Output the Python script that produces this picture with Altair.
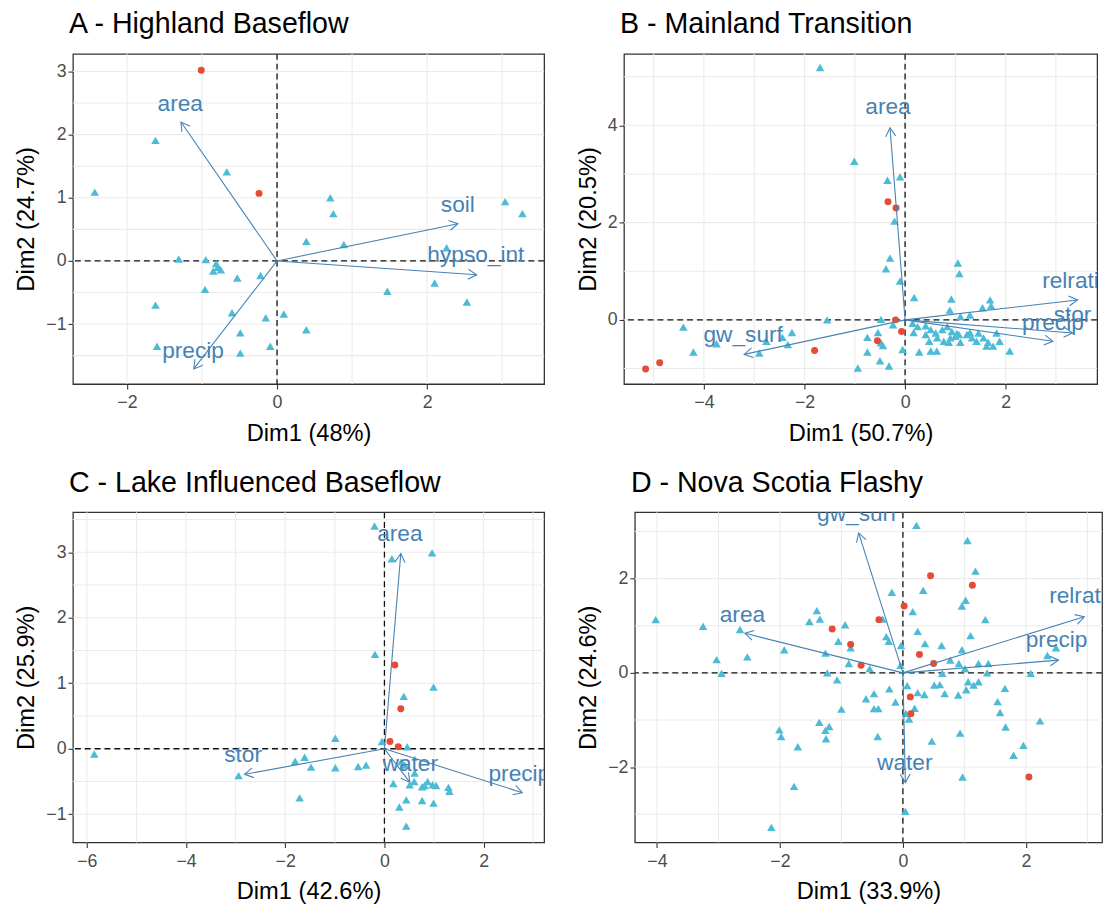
import math
import altair as alt
import pandas as pd

FONT = "Liberation Sans"
BLUE = "#4DBBD5"
RED = "#E64B35"
STEEL = "#4682B4"
GRID = "#EBEBEB"

# ---------------- Panel A ----------------
A_title = "A - Highland Baseflow"
A_xlab = "Dim1 (48%)"
A_ylab = "Dim2 (24.7%)"
A_xdom = [-2.72, 3.56]
A_ydom = [-1.95, 3.28]
A_xticks = [-2, 0, 2]
A_yticks = [-1, 0, 1, 2, 3]
A_xgrid = [-2, -1, 0, 1, 2, 3]
A_ygrid = [-1.5, -1, -0.5, 0, 0.5, 1, 1.5, 2, 2.5, 3]
A_blue_x = [-1.62, -2.43, -0.67, 0.71, 0.75, 3.04, 3.27, 0.39, 0.89, 2.26, -1.31, -0.95, -0.81, -0.79,
            -0.85, -0.75, -0.53, -0.22, -0.96, 1.47, 2.10, 2.53, -1.62, -0.60, -0.15, 0.09, 0.39, -0.49,
            -1.60, -0.49, -0.09]
A_blue_y = [1.91, 1.09, 1.41, 1.00, 0.75, 0.94, 0.75, 0.31, 0.26, 0.21, 0.03, 0.02, -0.04, -0.10,
            -0.16, -0.14, -0.27, -0.23, -0.45, -0.48, -0.35, -0.65, -0.70, -0.82, -0.90, -0.84, -1.09, -1.14,
            -1.35, -1.46, -1.35]
A_red_x = [-1.01, -0.24]
A_red_y = [3.02, 1.07]
A_vars = ["area", "soil", "hypso_int", "precip"]
A_var_x = [-1.28, 2.41, 2.66, -1.11]
A_var_y = [2.20, 0.59, -0.22, -1.71]
A_lab_x = [-1.29, 2.41, 2.65, -1.12]
A_lab_y = [2.49, 0.89, 0.10, -1.42]

# ---------------- Panel B ----------------
B_title = "B - Mainland Transition"
B_xlab = "Dim1 (50.7%)"
B_ylab = "Dim2 (20.5%)"
B_xdom = [-5.59, 3.82]
B_ydom = [-1.32, 5.47]
B_xticks = [-4, -2, 0, 2]
B_yticks = [0, 2, 4]
B_xgrid = [-5, -4, -3, -2, -1, 0, 1, 2, 3]
B_ygrid = [-1, 0, 1, 2, 3, 4, 5]
B_blue_x = [-1.69, -1.01, -0.35, -0.10, -0.21, -0.30, -0.38, -0.10, 1.05, 1.08, 0.18, 0.92, 1.69, 1.71,
            1.54, 0.89, 1.29, 1.10, -0.48, -1.55, -4.41, -2.25, -2.44, -2.76, -2.33, -3.75, -4.21, -2.90,
            -0.75, -0.54, -0.48, -0.44, -0.75, -0.50, -0.32, -0.94, -0.24, -0.05, 0.17, 0.28,
            0.41, 0.51, 0.61, 0.74, 0.84, 0.93, 1.03, 0.41, 0.48, 0.64, 0.77, 0.90, 1.00, 1.10, 1.23,
            1.33, 1.42, 1.56, 1.65, 1.75, 1.82, 1.88, 0.63, 2.08, 1.62, 1.46, 1.29, 0.51, 0.87, 1.07,
            0.15, 0.25]
B_blue_y = [5.19, 3.26, 2.87, 2.94, 2.03, 1.27, 1.05, 0.80, 1.17, 0.95, 0.46, 0.43, 0.41, 0.29,
            0.25, 0.20, 0.10, 0.07, 0.01, 0.00, -0.15, -0.26, -0.36, -0.44, -0.51, -0.49, -0.66, -0.68,
            -0.36, -0.26, -0.47, -0.53, -0.66, -0.84, -0.95, -0.99, -0.10, -0.61, -0.26, -0.66,
            -0.12, -0.20, -0.27, -0.20, -0.14, -0.24, -0.28, -0.30, -0.44, -0.37, -0.44, -0.37, -0.34, -0.46, -0.30,
            -0.37, -0.44, -0.37, -0.46, -0.54, -0.27, -0.44, -0.64, -0.64, -0.54, -0.27, -0.26, -0.64, -0.46, -0.30,
            -0.07, -0.14]
B_red_x = [-5.16, -4.88, -1.80, -0.34, -0.18, -0.19, -0.07, -0.55]
B_red_y = [-1.01, -0.88, -0.63, 2.43, 2.30, 0.00, -0.24, -0.43]
B_vars = ["area", "relrati", "stor", "precip", "gw_surf"]
B_var_x = [-0.30, 3.43, 3.33, 2.94, -3.20]
B_var_y = [3.95, 0.41, -0.27, -0.44, -0.71]
B_lab_x = [-0.34, 3.29, 3.33, 2.94, -3.22]
B_lab_y = [4.38, 0.80, 0.10, -0.07, -0.32]

# ---------------- Panel C ----------------
C_title = "C - Lake Influenced Baseflow"
C_xlab = "Dim1 (42.6%)"
C_ylab = "Dim2 (25.9%)"
C_xdom = [-6.28, 3.22]
C_ydom = [-1.43, 3.61]
C_xticks = [-6, -4, -2, 0, 2]
C_yticks = [-1, 0, 1, 2, 3]
C_xgrid = [-6, -5, -4, -3, -2, -1, 0, 1, 2, 3]
C_ygrid = [-1, -0.5, 0, 0.5, 1, 1.5, 2, 2.5, 3, 3.5]
C_blue_x = [-0.20, 0.15, 0.96, -0.19, 0.99, 0.39, -0.99, -0.05, 0.46, -5.85, -1.80, -1.61, -1.48, -0.99,
            -0.53, -0.37, -2.94, -1.71, 0.18, 0.51, 0.61, 0.60, 0.76, 0.87, 0.97, 1.04, 0.81, 1.29, 1.31,
            0.44, 0.76, 0.99, 0.30, 0.44, 0.41, 0.34]
C_blue_y = [3.40, 2.90, 2.99, 1.44, 0.94, 0.80, 0.16, 0.11, 0.03, -0.08, -0.19, -0.13, -0.28, -0.29,
            -0.27, -0.25, -0.41, -0.75, -0.53, -0.55, -0.37, -0.50, -0.58, -0.50, -0.55, -0.56, -0.56, -0.59, -0.65,
            -0.78, -0.79, -0.83, -0.89, -1.18, -0.25, -0.20]
C_red_x = [0.21, 0.33, 0.11, 0.28]
C_red_y = [1.28, 0.61, 0.11, 0.03]
C_vars = ["area", "stor", "precip", "water"]
C_var_x = [0.33, -2.82, 2.78, 0.51]
C_var_y = [2.98, -0.39, -0.67, -0.51]
C_lab_x = [0.31, -2.85, 2.72, 0.52]
C_lab_y = [3.28, -0.09, -0.38, -0.23]

# ---------------- Panel D ----------------
D_title = "D - Nova Scotia Flashy"
D_xlab = "Dim1 (33.9%)"
D_ylab = "Dim2 (24.6%)"
D_xdom = [-4.36, 3.24]
D_ydom = [-3.60, 3.41]
D_xticks = [-4, -2, 0, 2]
D_yticks = [-2, 0, 2]
D_xgrid = [-4, -3, -2, -1, 0, 1, 2, 3]
D_ygrid = [-3, -2, -1, 0, 1, 2, 3]
D_blue_x = [-4.02, -3.25, -2.65, -3.03, -2.95, -2.53, -1.93, -1.52, -1.40, -1.35, -0.94, -1.05, -0.85, -1.26,
            -0.88, -1.23, -1.07, -0.54, -0.33, -0.18, -0.27, -0.23, -0.03, -0.04, 0.16, 0.22, 0.33, 0.24,
            0.36, 0.63, 1.05, 1.18, 1.02, 0.96, 1.34, 1.10, 0.96, 0.77, 0.91, 1.23, 1.39, 1.37, 1.01, 0.64,
            2.08, 2.35, 2.49, -1.00, -0.60, -0.47, -0.22, -0.47, -0.40, -0.12, 0.07, 0.24, 0.35, 0.19, 0.05,
            0.10, 0.51, 0.60, 0.68, 0.90, 1.03, 1.06, 1.15, 1.23, 1.66, 1.54, 1.58, 1.67, 2.23, 0.93, 0.47,
            1.96, 1.80, 0.97, 0.04, -0.41, -1.36, -1.20, -1.26, -1.25, -2.01, -1.98, -1.71, -1.77, -2.14]
D_blue_y = [1.13, 0.99, 0.92, 0.28, -0.01, 0.34, 0.49, 1.09, 1.32, 1.14, 1.02, 0.67, 0.53, 0.42,
            0.20, 0.00, -0.15, 0.09, 1.14, 1.71, 0.77, 0.67, 0.58, 0.16, 1.30, 3.13, 1.75, 0.88,
            0.62, 0.58, 2.81, 2.16, 1.54, 1.42, 1.13, 0.79, 0.49, 0.27, 0.20, 0.20, 0.20, 0.00, 0.09, -0.01,
            -0.01, 0.37, 0.53, -0.77, -0.55, -0.44, -0.34, -0.76, -0.76, -0.62, -0.27, -0.42, -0.46, -0.75, -0.86,
            -0.98, -0.26, -0.25, -0.44, -0.47, -0.36, -0.19, -0.26, -0.19, -0.33, -0.61, -0.84, -1.15, -1.02, -1.28, -1.45,
            -1.54, -1.75, -2.21, -2.94, -1.35, -1.05, -1.14, -1.22, -1.40, -1.21, -1.35, -1.57, -2.41, -3.28]
D_red_x = [0.45, 1.13, 0.02, -0.39, -1.15, -0.85, -0.68, 0.27, 0.50, 0.12, 0.13, 2.05]
D_red_y = [2.06, 1.86, 1.42, 1.13, 0.93, 0.60, 0.16, 0.39, 0.20, -0.51, -0.87, -2.21]
D_vars = ["gw_surf", "area", "relrati", "precip", "water"]
D_var_x = [-0.72, -2.57, 2.95, 2.53, 0.04]
D_var_y = [2.97, 0.84, 1.19, 0.27, -2.33]
D_lab_x = [-0.75, -2.61, 2.84, 2.50, 0.03]
D_lab_y = [3.37, 1.23, 1.64, 0.69, -1.92]

HEAD = "M-0.5,0.866L0,0L0.5,0.866"


def panel(title, xlab, ylab, xdom, ydom, xticks, yticks, xgrid, ygrid,
          bx, by, rx, ry, vars_, vx, vy, lx, ly, width, height):
    xs = alt.Scale(domain=xdom, nice=False, zero=False)
    ys = alt.Scale(domain=ydom, nice=False, zero=False)
    xax = alt.Axis(values=xticks, title=xlab, grid=False, domain=False, tickColor="#333333",
                   tickSize=5, tickWidth=1.1, labelColor="#4D4D4D", labelFontSize=18, labelFont=FONT,
                   labelPadding=5, titleFont=FONT, titleFontSize=24, titleFontWeight="normal",
                   titleColor="black", titlePadding=10, labelFlush=False)
    yax = alt.Axis(values=yticks, title=ylab, grid=False, domain=False, tickColor="#333333",
                   tickSize=5, tickWidth=1.1, labelColor="#4D4D4D", labelFontSize=18, labelFont=FONT,
                   labelPadding=2, titleFont=FONT, titleFontSize=24, titleFontWeight="normal",
                   titleColor="black", titlePadding=7, labelFlush=False)

    def X():
        return alt.X("x:Q", scale=xs, axis=xax)

    def Y():
        return alt.Y("y:Q", scale=ys, axis=yax)

    gx = alt.Chart(pd.DataFrame({"x": xgrid})).mark_rule(color=GRID, strokeWidth=1.1).encode(x=X())
    gy = alt.Chart(pd.DataFrame({"y": ygrid})).mark_rule(color=GRID, strokeWidth=1.1).encode(y=Y())
    zx = alt.Chart(pd.DataFrame({"x": [0]})).mark_rule(
        color="#111111", strokeDash=[6, 4], strokeWidth=1.3).encode(x=X())
    zy = alt.Chart(pd.DataFrame({"y": [0]})).mark_rule(
        color="#111111", strokeDash=[6, 4], strokeWidth=1.3).encode(y=Y())
    blue = alt.Chart(pd.DataFrame({"x": bx, "y": by})).mark_point(
        shape="triangle-up", filled=True, size=75, color=BLUE, opacity=1, clip=True).encode(x=X(), y=Y())
    red = alt.Chart(pd.DataFrame({"x": rx, "y": ry})).mark_circle(
        size=50, color=RED, opacity=1, clip=True).encode(x=X(), y=Y())

    sx = width / (xdom[1] - xdom[0])
    sy = height / (ydom[1] - ydom[0])
    ang = [math.degrees(math.atan2(a * sx, b * sy)) % 360 for a, b in zip(vx, vy)]
    arr_df = pd.DataFrame({"x": [0.0] * len(vx), "y": [0.0] * len(vx), "x2": vx, "y2": vy})
    shafts = alt.Chart(arr_df).mark_rule(color=STEEL, strokeWidth=1.1, clip=True).encode(
        x=X(), y=Y(), x2="x2:Q", y2="y2:Q")
    heads = alt.Chart(pd.DataFrame({"x": vx, "y": vy, "ang": ang})).mark_point(
        shape=HEAD, filled=False, size=400, color=STEEL, strokeWidth=1.1, opacity=1, clip=True).encode(
        x=X(), y=Y(), angle=alt.Angle("ang:Q", scale=None))
    labels = alt.Chart(pd.DataFrame({"x": lx, "y": ly, "name": vars_})).mark_text(
        font=FONT, fontSize=23, color=STEEL, align="center", baseline="middle", clip=True).encode(
        x=X(), y=Y(), text="name:N")

    return alt.layer(gx, gy, zx, zy, blue, red, shafts, heads, labels).properties(
        width=width, height=height,
        title=alt.TitleParams(title, anchor="start", frame="group", fontSize=29, fontWeight="normal",
                              font=FONT, color="black", offset=14, dx=-4))


pA = panel(A_title, A_xlab, A_ylab, A_xdom, A_ydom, A_xticks, A_yticks, A_xgrid, A_ygrid,
           A_blue_x, A_blue_y, A_red_x, A_red_y, A_vars, A_var_x, A_var_y, A_lab_x, A_lab_y, 478, 335)
pB = panel(B_title, B_xlab, B_ylab, B_xdom, B_ydom, B_xticks, B_yticks, B_xgrid, B_ygrid,
           B_blue_x, B_blue_y, B_red_x, B_red_y, B_vars, B_var_x, B_var_y, B_lab_x, B_lab_y, 480, 335)
pC = panel(C_title, C_xlab, C_ylab, C_xdom, C_ydom, C_xticks, C_yticks, C_xgrid, C_ygrid,
           C_blue_x, C_blue_y, C_red_x, C_red_y, C_vars, C_var_x, C_var_y, C_lab_x, C_lab_y, 478, 335)
pD = panel(D_title, D_xlab, D_ylab, D_xdom, D_ydom, D_xticks, D_yticks, D_xgrid, D_ygrid,
           D_blue_x, D_blue_y, D_red_x, D_red_y, D_vars, D_var_x, D_var_y, D_lab_x, D_lab_y, 474, 335)

chart = alt.vconcat(
    alt.hconcat(pA, pB, spacing=30),
    alt.hconcat(pC, pD, spacing=30),
    spacing=22,
).properties(
    padding={"left": 14, "top": 3, "right": 5, "bottom": 5}
).configure_view(stroke="#333333", strokeWidth=1.3)

chart.save("out.html", embed_options={"renderer": "svg", "actions": False})
